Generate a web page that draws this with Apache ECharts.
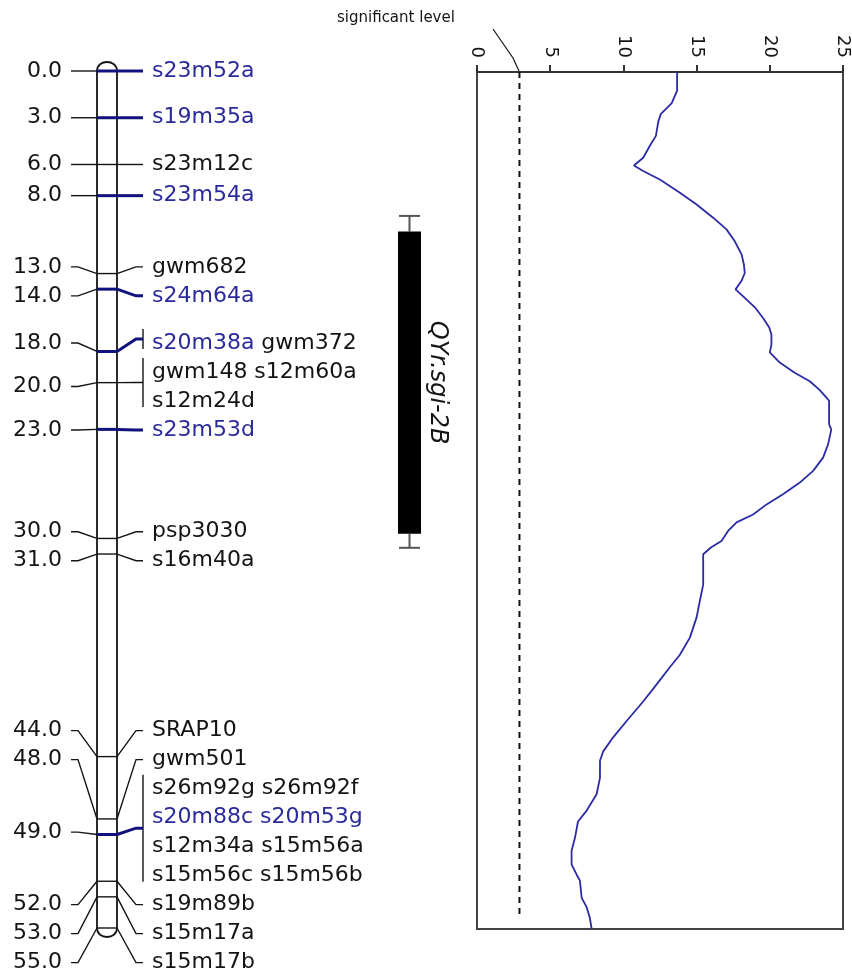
<!DOCTYPE html>
<html><head><meta charset="utf-8">
<script src="https://cdn.jsdelivr.net/npm/echarts@6/dist/echarts.min.js"></script>
<style>html,body{margin:0;padding:0;background:#fff}#c{width:852px;height:974px}</style>
</head><body><div id="c"></div>
<script>
// ---------------- data ----------------
const markerPos = [0, 3, 6, 8, 13, 14, 18, 20, 23, 30, 31, 44, 48, 49, 52, 53, 55];
const markerNames = [
  [["s23m52a"]],
  [["s19m35a"]],
  [["s23m12c"]],
  [["s23m54a"]],
  [["gwm682"]],
  [["s24m64a"]],
  [["s20m38a", "gwm372"]],
  [["gwm148", "s12m60a"], ["s12m24d"]],
  [["s23m53d"]],
  [["psp3030"]],
  [["s16m40a"]],
  [["SRAP10"]],
  [["gwm501"]],
  [["s26m92g", "s26m92f"], ["s20m88c", "s20m53g"], ["s12m34a", "s15m56a"], ["s15m56c", "s15m56b"]],
  [["s19m89b"]],
  [["s15m17a"]],
  [["s15m17b"]]
];
const highlightedMarkers = ["s23m52a", "s19m35a", "s23m54a", "s24m64a", "s20m38a", "s23m53d", "s20m88c", "s20m53g"];
const chromExtent = [0, 55];

const lodPos = [0, 1.2, 2.0, 2.7, 3.2, 4.1, 4.75, 5.5, 6.0, 6.35, 6.9, 7.75, 8.5, 9.35, 10.1, 10.85, 11.7, 12.35, 12.9, 13.4, 13.95, 14.4, 15.1, 15.8, 16.4, 16.85, 17.5, 18.0, 18.65, 19.3, 19.85, 20.4, 20.9, 21.1, 22.6, 22.95, 23.9, 24.75, 25.6, 26.35, 27.1, 27.75, 28.4, 28.9, 29.45, 30.1, 30.5, 30.95, 32.9, 33.95, 35.0, 36.3, 37.4, 38.2, 39.3, 40.4, 41.65, 42.7, 43.6, 44.2, 45.3, 46.35, 47.4, 48.1, 49.15, 50.0, 50.85, 51.5, 51.9, 53.0, 53.6, 54.3, 55.0];
const lodValue = [13.67, 13.67, 13.3, 12.55, 12.38, 12.22, 11.8, 11.35, 10.72, 11.35, 12.49, 13.86, 15.0, 16.13, 17.04, 17.6, 18.07, 18.23, 18.29, 18.07, 17.66, 18.18, 18.98, 19.55, 19.96, 20.11, 20.11, 20.0, 20.68, 21.7, 22.73, 23.4, 23.87, 24.05, 24.05, 24.2, 23.98, 23.64, 22.96, 22.05, 20.9, 19.78, 18.86, 17.73, 17.15, 16.7, 16.0, 15.45, 15.45, 15.22, 15.0, 14.54, 13.86, 13.17, 12.27, 11.35, 10.22, 9.3, 8.62, 8.4, 8.4, 8.17, 7.49, 6.9, 6.69, 6.46, 6.46, 6.8, 7.03, 7.15, 7.49, 7.71, 7.83];

const sigLevel = 2.9;
const sigLineExtent = [0, 54.3];
const lodTicks = [0, 5, 10, 15, 20, 25];

const qtlName = "QYr.sgi-2B";
const qtlSupport = [9.3, 30.6];
const qtlInterval = [10.3, 29.7];

// ---------------- style ----------------
const FONT = "DejaVu Sans";
const BLACK = "#141414";
const NAVY_LINE = "#12127f";
const NAVY_TEXT = "#2a2a9c";
const CURVE = "#2b2ba6";
const LINE_H = 29;
const X_CL = 97, X_CR = 117;

let layoutCache = null;
function computeLayout(api) {
  const items = markerPos.map((p, i) => {
    const n = markerNames[i].length;
    return { i, d: api.coord([0, p])[1], n, h: n * LINE_H };
  });
  const clusters = [];
  items.forEach(it => {
    clusters.push({ items: [it], H: it.h, top: it.d - it.h / 2 });
    while (clusters.length > 1) {
      const b = clusters[clusters.length - 1], a = clusters[clusters.length - 2];
      if (a.top + a.H <= b.top + 0.001) break;
      const m = { items: a.items.concat(b.items), H: a.H + b.H };
      let off = 0, sw = 0, s = 0;
      m.items.forEach(x => { s += x.n * (x.d - off - x.h / 2); sw += x.n; off += x.h; });
      m.top = s / sw;
      clusters.splice(clusters.length - 2, 2, m);
    }
  });
  const res = [];
  clusters.forEach(c => {
    let off = c.top;
    c.items.forEach(x => {
      res[x.i] = [];
      for (let k = 0; k < x.n; k++) res[x.i].push(off + (k + 0.5) * LINE_H);
      off += x.h;
    });
  });
  return res;
}

function renderChrom(params, api) {
  const top = api.coord([0, api.value(0)])[1];
  const bot = api.coord([0, api.value(1)])[1];
  const st = { stroke: BLACK, lineWidth: 1.8, fill: null };
  return { type: "group", children: [
    { type: "line", shape: { x1: X_CL, y1: top, x2: X_CL, y2: bot }, style: st },
    { type: "line", shape: { x1: X_CR, y1: top, x2: X_CR, y2: bot }, style: st },
    { type: "bezierCurve", shape: { x1: X_CL, y1: top, x2: X_CR, y2: top, cpx1: X_CL, cpy1: top - 12, cpx2: X_CR, cpy2: top - 12 }, style: st },
    { type: "bezierCurve", shape: { x1: X_CL, y1: bot, x2: X_CR, y2: bot, cpx1: X_CL, cpy1: bot + 12, cpx2: X_CR, cpy2: bot + 12 }, style: st }
  ]};
}

function renderMarker(params, api) {
  if (!layoutCache) layoutCache = computeLayout(api);
  const i = params.dataIndex;
  const pos = api.value(1);
  const my = api.coord([0, pos])[1];
  const lines = markerNames[i];
  const ly = layoutCache[i];
  const gc = (ly[0] + ly[ly.length - 1]) / 2;
  const words = [].concat(...lines);
  const blue = words.some(w => highlightedMarkers.includes(w));
  const thin = { stroke: BLACK, lineWidth: 1.4, fill: null };
  const thick = { stroke: NAVY_LINE, lineWidth: 3, fill: null };
  const children = [];
  children.push({ type: "text", style: { text: pos.toFixed(1), x: 62, y: gc, align: "right", verticalAlign: "middle", fontFamily: FONT, fontSize: 22, fill: BLACK } });
  children.push({ type: "polyline", shape: { points: [[71, gc], [78, gc], [X_CL, my]] }, style: thin });
  let rightY = ly[0];
  if (words.length > 1) {
    const bTop = ly[0] - 14, bBot = ly[ly.length - 1] + 6;
    rightY = (bTop + bBot) / 2;
    children.push({ type: "line", shape: { x1: 143, y1: bTop, x2: 143, y2: bBot }, style: thin });
  }
  children.push({ type: "polyline", shape: { points: [[X_CR, my], [136, rightY], [143, rightY]] }, style: blue ? thick : thin });
  children.push({ type: "line", shape: { x1: X_CL, y1: my, x2: X_CR, y2: my }, style: blue ? thick : thin });
  lines.forEach((ws, k) => {
    const txt = ws.map(w => "{" + (highlightedMarkers.includes(w) ? "b" : "k") + "|" + w + "}").join("{k| }");
    children.push({ type: "text", style: {
      text: txt, x: 152, y: ly[k], align: "left", verticalAlign: "middle",
      fontFamily: FONT, fontSize: 22, fill: BLACK,
      rich: { b: { fill: NAVY_TEXT, fontFamily: FONT, fontSize: 22 }, k: { fill: BLACK, fontFamily: FONT, fontSize: 22 } }
    }});
  });
  return { type: "group", children };
}

function renderQtl(params, api) {
  const y0 = api.coord([0, api.value(0)])[1];
  const y1 = api.coord([0, api.value(1)])[1];
  const y2 = api.coord([0, api.value(2)])[1];
  const y3 = api.coord([0, api.value(3)])[1];
  const cx = 409.5, w = 23;
  const ws = { stroke: "#555", lineWidth: 2 };
  return { type: "group", children: [
    { type: "line", shape: { x1: cx, y1: y0, x2: cx, y2: y1 }, style: ws },
    { type: "line", shape: { x1: cx, y1: y2, x2: cx, y2: y3 }, style: ws },
    { type: "line", shape: { x1: cx - 10.5, y1: y0, x2: cx + 10.5, y2: y0 }, style: ws },
    { type: "line", shape: { x1: cx - 10.5, y1: y3, x2: cx + 10.5, y2: y3 }, style: ws },
    { type: "rect", shape: { x: cx - w / 2, y: y1, width: w, height: y2 - y1 }, style: { fill: "#000" } },
    { type: "text", x: 437, y: (y1 + y2) / 2, rotation: -Math.PI / 2,
      style: { text: qtlName, align: "center", verticalAlign: "middle", fontFamily: FONT, fontSize: 24, fontStyle: "italic", fill: BLACK } }
  ]};
}

const chart = echarts.init(document.getElementById("c"));
chart.setOption({
  animation: false,
  backgroundColor: "#fff",
  grid: [
    { left: 0, top: 71, width: 852, height: 857, show: false },
    { left: 477, top: 72, width: 366, height: 857, show: true, borderColor: "#444", borderWidth: 2, backgroundColor: "transparent" }
  ],
  xAxis: [
    { gridIndex: 0, type: "value", min: 0, max: 852, show: false },
    { gridIndex: 1, type: "value", position: "top", min: lodTicks[0], max: lodTicks[lodTicks.length - 1], interval: 5,
      axisLine: { show: true, lineStyle: { color: "#333", width: 2 } },
      axisTick: { show: true, inside: false, length: 7, lineStyle: { color: "#333", width: 2 } },
      axisLabel: { rotate: -90, margin: 14, fontFamily: FONT, fontSize: 18, color: BLACK },
      splitLine: { show: false } }
  ],
  yAxis: [
    { gridIndex: 0, type: "value", min: chromExtent[0], max: chromExtent[1], inverse: true, show: false },
    { gridIndex: 1, type: "value", min: chromExtent[0], max: chromExtent[1], inverse: true, show: false }
  ],
  series: [
    { type: "custom", xAxisIndex: 0, yAxisIndex: 0, renderItem: renderChrom, data: [[chromExtent[0], chromExtent[1]]], silent: true },
    { type: "custom", xAxisIndex: 0, yAxisIndex: 0, renderItem: renderMarker, data: markerPos.map((p, i) => [i, p]), silent: true },
    { type: "custom", xAxisIndex: 0, yAxisIndex: 0, renderItem: renderQtl, data: [[qtlSupport[0], qtlInterval[0], qtlInterval[1], qtlSupport[1]]], silent: true },
    { type: "line", xAxisIndex: 1, yAxisIndex: 1, data: sigLineExtent.map(p => [sigLevel, p]), symbol: "none",
      lineStyle: { color: "#111", width: 2, type: [6, 5] }, silent: true },
    { type: "line", xAxisIndex: 1, yAxisIndex: 1, data: lodValue.map((v, i) => [v, lodPos[i]]), symbol: "none",
      lineStyle: { color: CURVE, width: 1.8 }, silent: true }
  ],
  graphic: [
    { type: "text", left: 337, top: 11, style: { text: "significant level", fontFamily: FONT, fontSize: 15, fill: BLACK } },
    { type: "polyline", shape: { points: [[493, 29], [513, 58], [519, 71]] }, style: { stroke: BLACK, lineWidth: 1.2, fill: null } }
  ]
});
</script></body></html>
